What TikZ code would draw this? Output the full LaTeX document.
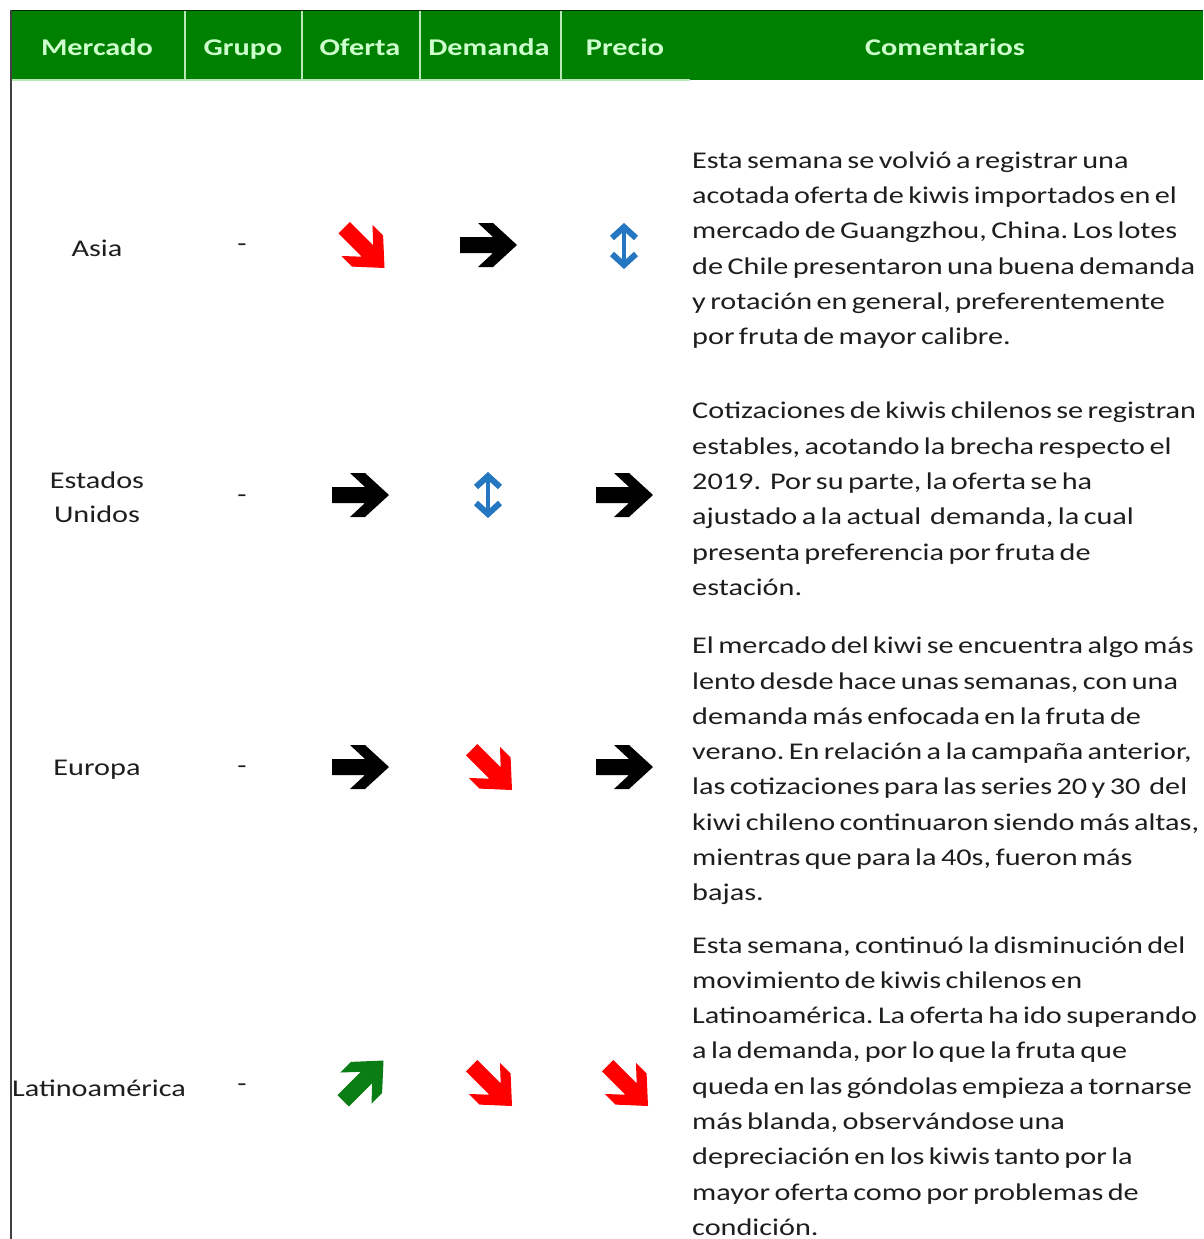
\documentclass[tikz,border=0pt]{standalone}
\usepackage{fontspec}
\setmainfont{Carlito}[FakeStretch=1.26, WordSpace=0.65]
\definecolor{hdrgreen}{HTML}{008000}
\definecolor{hdrtext}{HTML}{CCFFCC}
\definecolor{hdrline}{HTML}{B8E8B8}
\definecolor{txt}{HTML}{1E1E1E}
\definecolor{arrred}{HTML}{FF0000}
\definecolor{arrgreen}{HTML}{0A7D14}
\definecolor{arrblue}{HTML}{2577C2}
\tikzset{
  hdr/.style={font=\bfseries\fontsize{24}{28}\selectfont, text=hdrtext, inner sep=0pt, anchor=base},
  cell/.style={font=\fontsize{24}{34}\selectfont, text=txt, inner sep=0pt, align=center},
  comment/.style={font=\frenchspacing\fontsize{24}{35.3}\selectfont, text=txt, inner sep=0pt, align=left, anchor=west},
  fatarr/.pic={\fill[pic actions] (-28,-8) -- (5,-8) -- (-10,-22) -- (5,-22) -- (29,0) -- (5,22) -- (-10,22) -- (5,8) -- (-28,8) -- cycle;},
  updown/.pic={
    \draw[pic actions, line width=3.5pt] (0,-20) -- (0,20);
    \draw[pic actions, line width=6pt, line join=miter] (-12,-8) -- (0,-19) -- (12,-8);
    \draw[pic actions, line width=6pt, line join=miter] (-12,8) -- (0,19) -- (12,8);
  }
}
\begin{document}
\begin{tikzpicture}[x=1pt,y=-1pt]
\useasboundingbox (0,0) rectangle (1203,1239);
\fill[white] (0,0) rectangle (1203,1239);
% header band
\fill[hdrgreen] (10,10) rectangle (1203,80);
\draw[black!70!hdrgreen, line width=1.5pt] (10,10.5) -- (1203,10.5);
\draw[hdrline, line width=1.5pt] (10,80) -- (690,80);
\foreach \xx in {185,302,420,561} \draw[hdrline, line width=1.5pt] (\xx,11) -- (\xx,80);
% left border
\draw[black!75, line width=2pt] (11,10) -- (11,1239);
% header labels
\node[hdr] (hM) at (97,55.5) {Mercado};
\node[hdr] (hG) at (243,55.5) {Grupo};
\node[hdr] (hO) at (360,55.5) {Oferta};
\node[hdr] (hD) at (489,55.5) {Demanda};
\node[hdr] (hP) at (625,55.5) {Precio};
\node[hdr] (hC) at (945,55.5) {Comentarios};
% market labels
\node[cell] (m1) at (97,248) {Asia};
\node[cell] (m2) at (97,497) {Estados\\Unidos};
\node[cell] (m3) at (97,770) {Europa};
\node[cell] (m4) at (99,1088) {Latinoamérica};
% group dashes
\node[cell] (g1) at (242,248) {-};
\node[cell] (g2) at (242,499) {-};
\node[cell] (g3) at (242,770) {-};
\node[cell] (g4) at (242,1088) {-};
% row 1: Asia
\pic[fill=arrred, rotate=-45] at (364,247.5) {fatarr};
\pic[fill=black] at (488,245) {fatarr};
\pic[draw=arrblue] at (624,246) {updown};
% row 2: Estados Unidos
\pic[fill=black] at (360,495) {fatarr};
\pic[draw=arrblue] at (488,495) {updown};
\pic[fill=black] at (624,495) {fatarr};
% row 3: Europa
\pic[fill=black] at (360,767) {fatarr};
\pic[fill=arrred, rotate=-45] at (491.5,769.5) {fatarr};
\pic[fill=black] at (624,767) {fatarr};
% row 4: Latinoamerica
\pic[fill=arrgreen, rotate=45] at (363,1081) {fatarr};
\pic[fill=arrred, rotate=-45] at (491.5,1085.5) {fatarr};
\pic[fill=arrred, rotate=-45] at (627.5,1085.5) {fatarr};
% comments
\node[comment] (c1) at (692,250) {Esta semana se volvió a registrar una\\acotada oferta de kiwis importados en el\\mercado de Guangzhou, China. Los lotes\\de Chile presentaron una buena demanda\\y rotación en general, preferentemente\\por fruta de mayor calibre.};
\node[comment] (c2) at (692,499) {Cotizaciones de kiwis chilenos se registran\\estables, acotando la brecha respecto el\\2019.~ Por su parte, la oferta se ha\\ajustado a la actual~ demanda, la cual\\presenta preferencia por fruta de\\estación.};
\node[comment] (c3) at (692,771) {El mercado del kiwi se encuentra algo más\\lento desde hace unas semanas, con una\\demanda más enfocada en la fruta de\\verano. En relación a la campaña anterior,\\las cotizaciones para las series 20 y 30~ del\\kiwi chileno continuaron siendo más altas,\\mientras que para la 40s, fueron más\\bajas.};
\node[comment] (c4) at (692,1086) {Esta semana, continuó la disminución del\\movimiento de kiwis chilenos en\\Latinoamérica. La oferta ha ido superando\\a la demanda, por lo que la fruta que\\queda en las góndolas empieza a tornarse\\más blanda, observándose una\\depreciación en los kiwis tanto por la\\mayor oferta como por problemas de\\condición.};
\end{tikzpicture}
\end{document}
